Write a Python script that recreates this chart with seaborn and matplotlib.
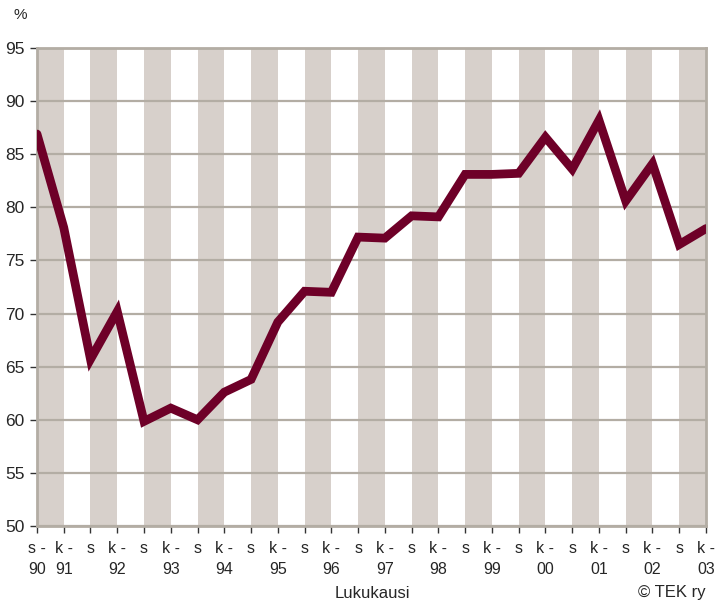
import matplotlib
matplotlib.use("Agg")
import matplotlib.pyplot as plt
import seaborn as sns
import pandas as pd
import numpy as np

# data
periods = ["s90", "k91", "s91", "k92", "s92", "k93", "s93", "k94", "s94", "k95",
           "s95", "k96", "s96", "k97", "s97", "k98", "s98", "k99", "s99", "k00",
           "s00", "k01", "s01", "k02", "s02", "k03"]
values = [86.9, 78.1, 65.7, 70.2, 59.85, 61.1, 60.0, 62.6, 63.8, 69.2,
          72.1, 72.0, 77.2, 77.1, 79.2, 79.1, 83.1, 83.1, 83.2, 86.6,
          83.6, 88.2, 80.6, 84.1, 76.5, 78.0]
tick_labels = ["s -\n90", "k -\n91", "s", "k -\n92", "s", "k -\n93", "s", "k -\n94",
               "s", "k -\n95", "s", "k -\n96", "s", "k -\n97", "s", "k -\n98",
               "s", "k -\n99", "s", "k -\n00", "s", "k -\n01", "s", "k -\n02",
               "s", "k -\n03"]
y_ticks = [50, 55, 60, 65, 70, 75, 80, 85, 90, 95]

sns.set_theme(style="white")
plt.rcParams['font.family'] = ['Liberation Sans', 'DejaVu Sans']

df = pd.DataFrame({"pos": np.arange(len(periods)), "pct": values})

fig = plt.figure(figsize=(7.18, 6.02), dpi=100)
ax = fig.add_axes([0.0515, 0.1262, 0.9318, 0.7941])

grid_c = "#b3ada4"
band_c = "#d7d0cb"

# alternating bands (s -> k gray)
for i in range(0, len(periods) - 1, 2):
    ax.axvspan(i, i + 1, color=band_c, lw=0, zorder=0)
for y in y_ticks:
    ax.axhline(y, color=grid_c, lw=1.6, zorder=1)

sns.lineplot(data=df, x="pos", y="pct", ax=ax, color="#6e0028", lw=6.3,
             solid_joinstyle="miter", zorder=3)

ax.set_xlim(0, len(periods) - 1)
ax.set_ylim(50, 95)
ax.set_yticks(y_ticks)
ax.set_yticklabels([str(v) for v in y_ticks], fontsize=12.5)
ax.set_xticks(df["pos"])
ax.set_xticklabels(tick_labels, fontsize=11.5, linespacing=1.45, va="top")
ax.tick_params(axis="x", length=5, width=1, color="#333333", pad=6, direction="out", bottom=True)
ax.tick_params(axis="y", length=5, width=1, color="#333333", pad=4, direction="out", left=True)
ax.set_xlabel("")
ax.set_ylabel("")
for side in ["left", "right", "top", "bottom"]:
    ax.spines[side].set_color(grid_c)
    ax.spines[side].set_linewidth(2)

fig.text(20 / 718, 1 - 15 / 602, "%", fontsize=11, ha="center", va="center")
fig.text(372 / 718, 1 - 593 / 602, "Lukukausi", fontsize=12, ha="center", va="center")
fig.text(706 / 718, 1 - 593 / 602, "© TEK ry", fontsize=12, ha="right", va="center")

fig.savefig("out.png", dpi=100)
